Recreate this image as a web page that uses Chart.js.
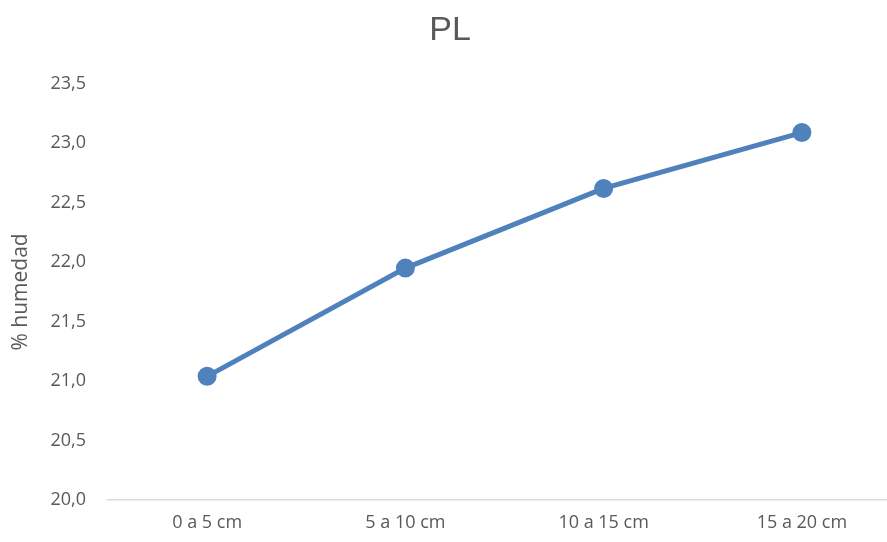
<!DOCTYPE html>
<html>
<head>
<meta charset="utf-8">
<script src="https://cdn.jsdelivr.net/npm/chart.js@4/dist/chart.umd.min.js"></script>
<style>
  html, body { margin: 0; padding: 0; background: #fff; overflow: hidden; }
  /* plot area of the original runs past the right edge, so draw wider and clip */
  #wrap { width: 887px; height: 542px; overflow: hidden; position: relative; }
  #inner { position: absolute; left: 0; top: 0; width: 913px; height: 542px; }
</style>
</head>
<body>
<div id="wrap"><div id="inner"><canvas id="c"></canvas></div></div>
<script>
  let categories = ['0 a 5 cm', '5 a 10 cm', '10 a 15 cm', '15 a 20 cm'];
  let humedad = [21.04, 21.95, 22.62, 23.09];
  let yMin = 20.0;
  let yMax = 23.5;
  let yStep = 0.5;

  let font = "'Liberation Sans Narrow', 'Open Sans', sans-serif";
  let grey = '#595959';

  // canvas is wider than the page, pull the title back to the middle of 900px
  let titleShift = {
    id: 'titleShift',
    afterLayout: (chart) => {
      if (chart.titleBlock) chart.titleBlock.left -= 13;
    }
  };

  var ctx = document.getElementById('c').getContext('2d');
  var chart = new Chart(ctx, {
    type: 'line',
    data: {
      labels: categories,
      datasets: [{
        label: 'PL',
        data: humedad,
        borderColor: '#4F81BD',
        backgroundColor: '#4F81BD',
        borderWidth: 5,
        pointRadius: 7,
        pointHoverRadius: 7,
        tension: 0
      }]
    },
    plugins: [titleShift],
    options: {
      responsive: true,
      maintainAspectRatio: false,
      animation: false,
      layout: { padding: 0 },
      plugins: {
        legend: { display: false },
        tooltip: { enabled: false },
        title: {
          display: true,
          text: 'PL',
          color: grey,
          font: { family: 'Arial, "Liberation Sans", sans-serif', size: 34, weight: 'normal' },
          padding: { top: 10, bottom: 33 }
        }
      },
      scales: {
        x: {
          offset: true,
          grid: { display: false, drawTicks: false },
          border: { display: true, color: '#D9D9D9', width: 1.5 },
          ticks: { color: grey, font: { family: font, size: 18 }, padding: 12 },
          afterFit: (s) => { s.height = 42; }
        },
        y: {
          min: yMin,
          max: yMax,
          grid: { display: false, drawTicks: false },
          border: { display: false },
          ticks: {
            stepSize: yStep,
            color: grey,
            font: { family: font, size: 18 },
            padding: 22,
            callback: (v) => v.toFixed(1).replace('.', ',')
          },
          title: {
            display: true,
            text: '% humedad',
            color: grey,
            font: { family: font, size: 21 },
            padding: { top: 8, bottom: 0 }
          },
          afterFit: (s) => { s.width = 108; }
        }
      }
    }
  });
</script>
</body>
</html>
